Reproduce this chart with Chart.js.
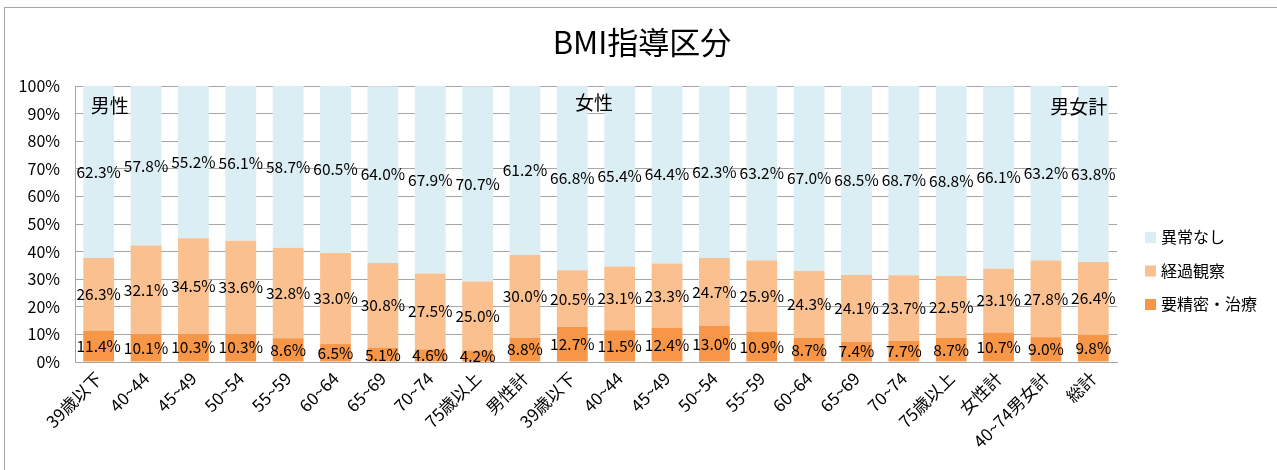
<!DOCTYPE html>
<html>
<head>
<meta charset="utf-8">
<script src="https://cdn.jsdelivr.net/npm/chart.js@4.4.0/dist/chart.umd.min.js"></script>
<style>
    body { margin: 0; background: #fff; }
    #wrap { position: relative; width: 1277px; height: 470px; overflow: hidden; }
    #frame { position: absolute; left: 4px; top: 7px; width: 1280px; height: 480px; border: 1px solid #a6a6a6; }
    #c { position: absolute; left: 0; top: 0; }
</style>
</head>
<body>
<div id="wrap">
    <div id="frame"></div>
    <canvas id="c" width="1277" height="470"></canvas>
</div>
<script>
// Data
const categories = [
    '39歳以下', '40~44', '45~49', '50~54', '55~59', '60~64', '65~69', '70~74', '75歳以上', '男性計',
    '39歳以下', '40~44', '45~49', '50~54', '55~59', '60~64', '65~69', '70~74', '75歳以上', '女性計',
    '40~74男女計', '総計'
];
const needTreatment = [11.4, 10.1, 10.3, 10.3, 8.6, 6.5, 5.1, 4.6, 4.2, 8.8, 12.7, 11.5, 12.4, 13.0, 10.9, 8.7, 7.4, 7.7, 8.7, 10.7, 9.0, 9.8];
const observation = [26.3, 32.1, 34.5, 33.6, 32.8, 33.0, 30.8, 27.5, 25.0, 30.0, 20.5, 23.1, 23.3, 24.7, 25.9, 24.3, 24.1, 23.7, 22.5, 23.1, 27.8, 26.4];
const noIssue = [62.3, 57.8, 55.2, 56.1, 58.7, 60.5, 64.0, 67.9, 70.7, 61.2, 66.8, 65.4, 64.4, 62.3, 63.2, 67.0, 68.5, 68.7, 68.8, 66.1, 63.2, 63.8];
const seriesNames = ['要精密・治療', '経過観察', '異常なし'];
const groupNames = ['男性', '女性', '男女計'];
const chartTitle = 'BMI指導区分';

const FONT = '"Noto Sans CJK JP", "Noto Sans", sans-serif';
const colors = ['#F79646', '#FAC090', '#DBEEF4'];

// Value labels centred in each segment
const segmentLabels = {
    id: 'segmentLabels',
    afterDatasetsDraw(chart) {
        const ctx = chart.ctx;
        ctx.save();
        ctx.font = '15.5px ' + FONT;
        ctx.fillStyle = '#000';
        ctx.textAlign = 'center';
        ctx.textBaseline = 'middle';
        chart.data.datasets.forEach((ds, i) => {
            chart.getDatasetMeta(i).data.forEach((bar, j) => {
                const y = (bar.y + bar.base) / 2;
                ctx.fillText(ds.data[j].toFixed(1) + '%', bar.x, y);
            });
        });
        ctx.restore();
    }
};

// Title, group captions and legend
const decorations = {
    id: 'decorations',
    afterDraw(chart) {
        const ctx = chart.ctx;
        const area = chart.chartArea;
        const xs = chart.scales.x;
        ctx.save();
        ctx.fillStyle = '#000';
        ctx.textBaseline = 'middle';

        ctx.font = '31px ' + FONT;
        ctx.textAlign = 'center';
        ctx.fillText(chartTitle, 642, 42);

        ctx.font = '19px ' + FONT;
        ctx.textAlign = 'left';
        ctx.fillText(groupNames[0], xs.getPixelForValue(0) - 8, area.top + 20);
        ctx.textAlign = 'center';
        ctx.fillText(groupNames[1], (xs.getPixelForValue(10) + xs.getPixelForValue(11)) / 2 - 2, area.top + 17);
        ctx.textAlign = 'right';
        ctx.fillText(groupNames[2], xs.getPixelForValue(21) + 14, area.top + 21);

        // legend, top item = last series
        ctx.font = '16px ' + FONT;
        ctx.textAlign = 'left';
        const order = [2, 1, 0];
        order.forEach((d, k) => {
            const y = 237 + k * 33.5;
            ctx.fillStyle = colors[d];
            ctx.fillRect(1145, y - 5, 11, 11);
            ctx.fillStyle = '#000';
            ctx.fillText(seriesNames[d], 1161, y);
        });
        ctx.restore();
    }
};

new Chart(document.getElementById('c'), {
    type: 'bar',
    data: {
        labels: categories,
        datasets: [
            { label: seriesNames[0], data: needTreatment, backgroundColor: colors[0] },
            { label: seriesNames[1], data: observation, backgroundColor: colors[1] },
            { label: seriesNames[2], data: noIssue, backgroundColor: colors[2] }
        ]
    },
    options: {
        responsive: false,
        animation: false,
        layout: { padding: { left: 0, right: 160, top: 86, bottom: 0 } },
        datasets: { bar: { categoryPercentage: 1, barPercentage: 0.65 } },
        plugins: {
            legend: { display: false },
            tooltip: { enabled: false }
        },
        scales: {
            x: {
                stacked: true,
                grid: { display: false, drawTicks: false },
                border: { color: '#a6a6a6' },
                ticks: {
                    color: '#000',
                    font: { family: FONT, size: 17 },
                    minRotation: 45,
                    maxRotation: 45,
                    padding: 6
                },
                afterFit: s => { s.height = 108; }
            },
            y: {
                stacked: true,
                min: 0,
                max: 100,
                grid: { color: '#a6a6a6', drawTicks: false },
                border: { color: '#a6a6a6' },
                ticks: {
                    stepSize: 10,
                    color: '#000',
                    font: { family: FONT, size: 16 },
                    padding: 15,
                    callback: v => v + '%'
                },
                afterFit: s => { s.width = 75; }
            }
        }
    },
    plugins: [segmentLabels, decorations]
});
</script>
</body>
</html>
